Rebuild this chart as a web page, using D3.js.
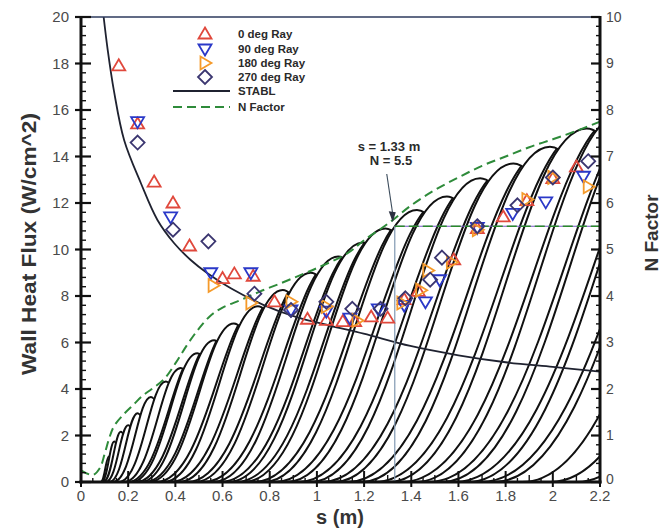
<!DOCTYPE html>
<html>
<head>
<meta charset="utf-8">
<script src="https://cdn.jsdelivr.net/npm/d3@7"></script>
<style>
  body { margin: 0; background: #fff; }
  text { font-family: "Liberation Sans", Arial, sans-serif; }
</style>
</head>
<body>
<div id="chart"></div>
<script>
// wall heat flux measurements (s in m, flux in W/cm^2)
var ray0S   = [0.16, 0.24, 0.31, 0.39, 0.46, 0.60, 0.65, 0.73, 0.82, 0.96, 1.04, 1.11, 1.16, 1.23, 1.30, 1.37, 1.43, 1.58, 1.68, 1.79, 1.89, 2.00, 2.10];
var ray0Q   = [17.9, 15.4, 12.9, 12.0, 10.15, 8.75, 8.95, 8.85, 7.75, 7.0, 6.95, 6.9, 6.9, 7.1, 7.05, 7.85, 8.2, 9.55, 10.9, 11.4, 12.1, 13.05, 13.55];
var ray90S  = [0.24, 0.38, 0.55, 0.72, 0.89, 1.04, 1.14, 1.26, 1.37, 1.46, 1.52, 1.68, 1.83, 1.97, 2.13];
var ray90Q  = [15.5, 11.4, 9.0, 9.0, 7.4, 7.35, 7.05, 7.45, 7.6, 7.75, 8.7, 10.95, 11.55, 12.05, 13.15];
var ray180S = [0.56, 0.72, 0.89, 1.04, 1.17, 1.36, 1.44, 1.47, 1.57, 1.68, 1.89, 2.00, 2.15];
var ray180Q = [8.45, 7.7, 7.75, 7.55, 6.95, 7.7, 8.25, 9.1, 9.45, 10.85, 12.15, 13.1, 12.7];
var ray270S = [0.24, 0.39, 0.54, 0.735, 0.89, 1.04, 1.15, 1.27, 1.375, 1.48, 1.53, 1.68, 1.85, 2.00, 2.15];
var ray270Q = [14.6, 10.85, 10.35, 8.1, 7.4, 7.75, 7.45, 7.45, 7.9, 8.7, 9.65, 11.0, 11.9, 13.1, 13.8];

// STABL heat flux prediction
var stablS = [0.096, 0.113, 0.14, 0.183, 0.254, 0.324, 0.395, 0.465, 0.536, 0.635, 0.775, 0.917, 1.058, 1.198, 1.396, 1.6, 1.8, 2.0, 2.2];
var stablQ = [20.0, 18.6, 16.8, 14.7, 12.85, 11.27, 10.27, 9.55, 8.98, 8.33, 7.61, 7.08, 6.72, 6.38, 5.85, 5.45, 5.15, 4.95, 4.75];

// N factor envelope (green dashed)
var envS = [0.0, 0.05, 0.08, 0.10, 0.12, 0.14, 0.18, 0.22, 0.26, 0.30, 0.35, 0.40, 0.45, 0.50, 0.55, 0.60, 0.68, 0.76, 0.85, 0.93, 1.00, 1.13, 1.20, 1.30, 1.40, 1.50, 1.60, 1.70, 1.80, 1.90, 2.00, 2.10, 2.20];
var envN = [0.25, 0.15, 0.30, 0.60, 0.95, 1.20, 1.45, 1.65, 1.85, 2.00, 2.20, 2.55, 2.95, 3.30, 3.58, 3.75, 3.92, 4.10, 4.28, 4.45, 4.60, 4.92, 5.20, 5.55, 5.95, 6.28, 6.55, 6.80, 7.00, 7.20, 7.37, 7.55, 7.75];

// individual frequency N factor curves: start s, peak s, peak N
var nStart = [0.083, 0.086, 0.094, 0.105, 0.120, 0.136, 0.160, 0.183, 0.213, 0.254, 0.288, 0.350, 0.415, 0.483, 0.560, 0.625, 0.690, 0.774, 0.871, 0.972, 1.073, 1.188, 1.303, 1.420, 1.530, 1.640, 1.750, 1.870, 1.990, 2.100];
var nPeakS = [0.118, 0.141, 0.169, 0.200, 0.240, 0.296, 0.360, 0.423, 0.493, 0.564, 0.648, 0.750, 0.855, 0.973, 1.090, 1.195, 1.290, 1.424, 1.551, 1.692, 1.833, 1.988, 2.143, 2.300, 2.450, 2.600, 2.750, 2.900, 3.050, 3.200];
var nPeakN = [0.55, 0.87, 1.08, 1.22, 1.48, 1.83, 2.16, 2.45, 2.77, 3.05, 3.41, 3.78, 4.13, 4.50, 4.85, 5.15, 5.45, 5.85, 6.14, 6.53, 6.85, 7.21, 7.60, 7.95, 8.30, 8.60, 8.90, 9.20, 9.50, 9.80];

// curves whose tops are hidden under the previous hump
var midStart  = [0.198, 0.233, 0.271, 0.319, 0.382, 0.449, 0.521, 0.592, 0.657, 0.732, 0.822, 0.921, 1.022, 1.130, 1.245, 1.361, 1.475, 1.585, 1.695];
var midPeakS  = [0.493, 0.564, 0.648, 0.750, 0.855, 0.973, 1.090, 1.195, 1.290, 1.424, 1.551, 1.692, 1.833, 1.988, 2.143, 2.300, 2.450, 2.600, 2.750];
var midPeakN  = [2.77, 3.05, 3.41, 3.78, 4.13, 4.50, 4.85, 5.15, 5.45, 5.85, 6.14, 6.53, 6.85, 7.21, 7.60, 7.95, 8.30, 8.60, 8.90];
var midParent = [7, 8, 9, 10, 11, 12, 13, 14, 15, 16, 17, 18, 19, 20, 21, 22, 23, 24, 25];

var sTicks = [0, 0.2, 0.4, 0.6, 0.8, 1, 1.2, 1.4, 1.6, 1.8, 2, 2.2];
var sLabels = ["0", "0.2", "0.4", "0.6", "0.8", "1", "1.2", "1.4", "1.6", "1.8", "2", "2.2"];
var qTicks = [0, 2, 4, 6, 8, 10, 12, 14, 16, 18, 20];
var nTicks = [0, 1, 2, 3, 4, 5, 6, 7, 8, 9, 10];

var W = 662, H = 532;
var svg = d3.select("#chart").append("svg")
    .attr("width", W)
    .attr("height", H);
svg.append("rect").attr("width", W).attr("height", H).attr("fill", "#fff");

var x  = d3.scaleLinear().domain([0, 2.2]).range([81, 600]);
var yq = d3.scaleLinear().domain([0, 20]).range([482, 17]);
var yn = d3.scaleLinear().domain([0, 10]).range([482, 17]);

var defs = svg.append("defs");
defs.append("clipPath").attr("id", "plot")
  .append("rect").attr("x", 81).attr("y", 17).attr("width", 519).attr("height", 465);

// rise to the peak, then a short fall after it
function addCurve(p, s0, sp, np) {
    var w = sp - s0;
    p.bezierCurveTo(x(s0 + 0.5 * w), yn(0), x(sp - 0.35 * w), yn(np), x(sp), yn(np));
    p.quadraticCurveTo(x(sp + 0.15 * w), yn(np), x(sp + 0.5 * w), yn(0.6 * np));
}
function curveD(s0, sp, np) {
    var p = d3.path();
    p.moveTo(x(s0), yn(0));
    addCurve(p, s0, sp, np);
    return p.toString();
}
function aboveD(s0, sp, np) {
    var p = d3.path();
    p.moveTo(-100, 800);
    p.lineTo(x(s0), 800);
    p.lineTo(x(s0), yn(0));
    addCurve(p, s0, sp, np);
    p.lineTo(3000, yn(0.6 * np));
    p.lineTo(3000, -800);
    p.lineTo(-100, -800);
    p.closePath();
    return p.toString();
}
function belowD(s0, sp, np) {
    var p = d3.path();
    p.moveTo(x(s0), yn(0));
    addCurve(p, s0, sp, np);
    p.lineTo(3000, yn(0.6 * np));
    p.lineTo(3000, 800);
    p.lineTo(x(s0), 800);
    p.closePath();
    return p.toString();
}

var curvesG = svg.append("g").attr("clip-path", "url(#plot)");

nStart.forEach(function(s0, i) {
    var path = curvesG.append("path")
        .attr("d", curveD(s0, nPeakS[i], nPeakN[i]))
        .attr("fill", "none")
        .attr("stroke", "#111")
        .attr("stroke-width", 2);
    if (i < nStart.length - 1) {
        defs.append("clipPath").attr("id", "ab" + i)
          .append("path").attr("d", aboveD(nStart[i + 1], nPeakS[i + 1], nPeakN[i + 1]));
        path.attr("clip-path", "url(#ab" + i + ")");
    }
});

midStart.forEach(function(s0, j) {
    var k = midParent[j];
    defs.append("clipPath").attr("id", "be" + j)
      .append("path").attr("d", belowD(nStart[k], nPeakS[k], nPeakN[k]));
    curvesG.append("path")
        .attr("d", curveD(s0, midPeakS[j], midPeakN[j]))
        .attr("fill", "none")
        .attr("stroke", "#111")
        .attr("stroke-width", 2)
        .attr("clip-path", "url(#be" + j + ")");
});

// N factor envelope
var envLine = d3.line()
    .x(function(d) { return x(d[0]); })
    .y(function(d) { return yn(d[1]); })
    .curve(d3.curveCatmullRom);
curvesG.append("path")
    .attr("d", envLine(d3.zip(envS, envN)))
    .attr("fill", "none")
    .attr("stroke", "#2e8b3a")
    .attr("stroke-width", 2)
    .attr("stroke-dasharray", "9,5");

// STABL
var stablLine = d3.line()
    .x(function(d) { return x(d[0]); })
    .y(function(d) { return yq(d[1]); })
    .curve(d3.curveCatmullRom);
curvesG.append("path")
    .attr("d", stablLine(d3.zip(stablS, stablQ)))
    .attr("fill", "none")
    .attr("stroke", "#1f2230")
    .attr("stroke-width", 1.8);

// s = 1.33 m, N = 5.5 marker lines
var sMark = 1.33, nMark = 5.5;
svg.append("line")
    .attr("x1", x(sMark)).attr("x2", x(sMark))
    .attr("y1", yn(nMark)).attr("y2", yn(0))
    .attr("stroke", "#8aa0b8").attr("stroke-width", 1.3);
svg.append("line")
    .attr("x1", x(sMark)).attr("x2", x(2.2))
    .attr("y1", yn(nMark)).attr("y2", yn(nMark))
    .attr("stroke", "#7a55c8").attr("stroke-width", 1.2);
svg.append("line")
    .attr("x1", x(sMark)).attr("x2", x(2.2))
    .attr("y1", yn(nMark)).attr("y2", yn(nMark))
    .attr("stroke", "#2a8a2a").attr("stroke-width", 1.6)
    .attr("stroke-dasharray", "10,4");

// arrow + label
var tipX = x(sMark) - 2, tipY = yn(nMark) - 4;
svg.append("line")
    .attr("x1", tipX - 6).attr("x2", tipX)
    .attr("y1", 174).attr("y2", tipY - 8)
    .attr("stroke", "#3a4a5a").attr("stroke-width", 1.1);
svg.append("path")
    .attr("d", "M" + tipX + "," + tipY + "L" + (tipX - 4) + "," + (tipY - 11) + "L" + (tipX + 3) + "," + (tipY - 10) + "Z")
    .attr("fill", "#2a3040");
svg.append("text")
    .attr("x", 389).attr("y", 151)
    .attr("text-anchor", "middle")
    .style("font-size", "13px").style("font-weight", "bold").attr("fill", "#2a2a2a")
    .text("s = 1.33 m");
svg.append("text")
    .attr("x", 391).attr("y", 165)
    .attr("text-anchor", "middle")
    .style("font-size", "13px").style("font-weight", "bold").attr("fill", "#2a2a2a")
    .text("N = 5.5");

// markers
var shapes = {
    up:      "M0,-6.5L6.5,4.5L-6.5,4.5Z",
    down:    "M0,6.5L6.5,-4.5L-6.5,-4.5Z",
    right:   "M6.5,0L-4.5,-6.5L-4.5,6.5Z",
    diamond: "M0,-7L7,0L0,7L-7,0Z"
};
var series = [
    {name: "0 deg Ray",   s: ray0S,   q: ray0Q,   shape: "up",      color: "#e0483c"},
    {name: "90 deg Ray",  s: ray90S,  q: ray90Q,  shape: "down",    color: "#2a38c8"},
    {name: "180 deg Ray", s: ray180S, q: ray180Q, shape: "right",   color: "#f59a2a"},
    {name: "270 deg Ray", s: ray270S, q: ray270Q, shape: "diamond", color: "#3b3670"}
];
series.forEach(function(se) {
    svg.append("g").selectAll("path")
        .data(d3.zip(se.s, se.q))
        .enter().append("path")
        .attr("d", shapes[se.shape])
        .attr("transform", function(d) { return "translate(" + x(d[0]) + "," + yq(d[1]) + ")"; })
        .attr("fill", "none")
        .attr("stroke", se.color)
        .attr("stroke-width", 1.8);
});

// frame
svg.append("line").attr("x1", 81).attr("x2", 600).attr("y1", 17).attr("y2", 17)
    .attr("stroke", "#2c3a5c").attr("stroke-width", 1.5);
svg.append("line").attr("x1", 81).attr("x2", 81).attr("y1", 16).attr("y2", 483.5)
    .attr("stroke", "#111").attr("stroke-width", 3);
svg.append("line").attr("x1", 600).attr("x2", 600).attr("y1", 16).attr("y2", 483.5)
    .attr("stroke", "#111").attr("stroke-width", 3);
svg.append("line").attr("x1", 79.5).attr("x2", 601.5).attr("y1", 482).attr("y2", 482)
    .attr("stroke", "#111").attr("stroke-width", 3);

var ticks = svg.append("g").attr("stroke", "#111").attr("stroke-width", 1.6);
// left axis
d3.range(0, 20.01, 0.4).forEach(function(v) {
    var major = Math.abs(v / 2 - Math.round(v / 2)) < 1e-6;
    ticks.append("line")
        .attr("x1", major ? 75 : 81).attr("x2", major ? 91 : 86)
        .attr("y1", yq(v)).attr("y2", yq(v))
        .attr("stroke-width", major ? 2.2 : 1.4);
});
// right axis
d3.range(0, 10.01, 0.2).forEach(function(v) {
    var major = Math.abs(v - Math.round(v)) < 1e-6;
    ticks.append("line")
        .attr("x1", major ? 591 : 596).attr("x2", 600)
        .attr("y1", yn(v)).attr("y2", yn(v))
        .attr("stroke-width", major ? 2.2 : 1.4);
});
// bottom axis
d3.range(0, 2.2001, 0.05).forEach(function(v) {
    var k = Math.round(v / 0.05);
    var len = (k % 4 === 0) ? 11 : (k % 2 === 0 ? 7 : 4);
    ticks.append("line")
        .attr("x1", x(v)).attr("x2", x(v))
        .attr("y1", k % 4 === 0 ? 487 : 482).attr("y2", 482 - len)
        .attr("stroke-width", k % 4 === 0 ? 2 : 1.4);
});

var labelG = svg.append("g").attr("fill", "#4a4a4a");
qTicks.forEach(function(v) {
    labelG.append("text")
        .attr("x", 69).attr("y", yq(v)).attr("dy", "0.35em")
        .attr("text-anchor", "end")
        .style("font-size", "15px")
        .text(v);
});
nTicks.forEach(function(v) {
    labelG.append("text")
        .attr("x", 606).attr("y", v === 0 ? yn(v) - 3 : yn(v)).attr("dy", "0.35em")
        .style("font-size", "14px")
        .text(v);
});
sTicks.forEach(function(v, i) {
    labelG.append("text")
        .attr("x", x(v)).attr("y", 501)
        .attr("text-anchor", "middle")
        .style("font-size", "15px")
        .text(sLabels[i]);
});

// axis titles
svg.append("text")
    .attr("transform", "translate(36,244) rotate(-90)")
    .attr("text-anchor", "middle")
    .style("font-size", "20px").style("font-weight", "bold")
    .attr("fill", "#333")
    .attr("textLength", 262).attr("lengthAdjust", "spacingAndGlyphs")
    .text("Wall Heat Flux (W/cm^2)");
svg.append("text")
    .attr("transform", "translate(658,233) rotate(-90)")
    .attr("text-anchor", "middle")
    .style("font-size", "19px").style("font-weight", "bold")
    .attr("fill", "#333")
    .text("N Factor");
svg.append("text")
    .attr("x", 340).attr("y", 524)
    .attr("text-anchor", "middle")
    .style("font-size", "20px").style("font-weight", "bold")
    .attr("fill", "#333")
    .text("s (m)");

// legend
var legY = [34, 49, 63, 77, 91, 107];
var legend = svg.append("g");
series.forEach(function(se, i) {
    legend.append("path")
        .attr("d", shapes[se.shape])
        .attr("transform", "translate(205," + legY[i] + ")")
        .attr("fill", "none")
        .attr("stroke", se.color)
        .attr("stroke-width", 1.8);
    legend.append("text")
        .attr("x", 238).attr("y", legY[i]).attr("dy", "0.35em")
        .style("font-size", "11.5px").style("font-weight", "bold")
        .attr("fill", "#2a2a2a")
        .text(se.name);
});
legend.append("line").attr("x1", 173).attr("x2", 230).attr("y1", legY[4]).attr("y2", legY[4])
    .attr("stroke", "#1f2230").attr("stroke-width", 2);
legend.append("text").attr("x", 238).attr("y", legY[4]).attr("dy", "0.35em")
    .style("font-size", "11.5px").style("font-weight", "bold").attr("fill", "#2a2a2a")
    .text("STABL");
legend.append("line").attr("x1", 173).attr("x2", 230).attr("y1", legY[5]).attr("y2", legY[5])
    .attr("stroke", "#2e8b3a").attr("stroke-width", 2).attr("stroke-dasharray", "9,5");
legend.append("text").attr("x", 238).attr("y", legY[5]).attr("dy", "0.35em")
    .style("font-size", "11.5px").style("font-weight", "bold").attr("fill", "#2a2a2a")
    .text("N Factor");
</script>
</body>
</html>
